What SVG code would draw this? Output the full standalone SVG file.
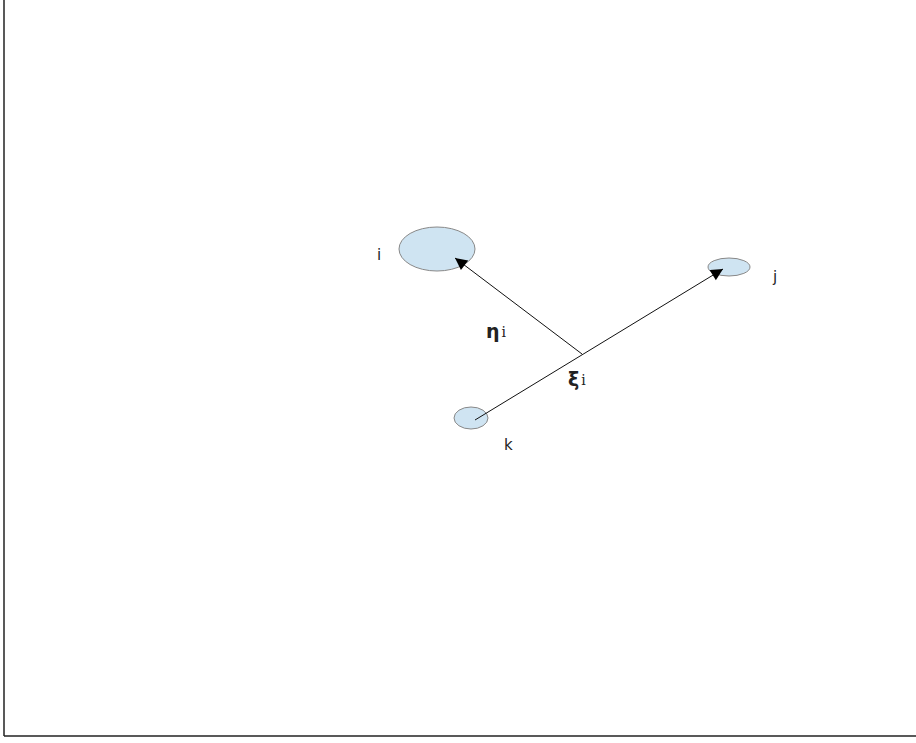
<svg xmlns="http://www.w3.org/2000/svg" width="916" height="743" viewBox="0 0 916 743">
<style>
.node{fill:#cfe4f2;stroke:#888;stroke-width:1}
.lbl{font-family:"DejaVu Sans",Verdana,sans-serif;font-size:15px;fill:#222}
.gk{font-family:"DejaVu Sans",sans-serif;font-size:19px;font-weight:bold;fill:#222}
.sub{font-family:"DejaVu Serif",serif;font-size:14px;fill:#222}
.conn{stroke:#111;stroke-width:1;fill:none}
</style>
<defs>
<marker id="ah" viewBox="0 0 10 10" refX="10" refY="5" markerWidth="16" markerHeight="12" markerUnits="userSpaceOnUse" orient="auto">
<path d="M0,0 L10,5 L0,10 z" fill="#000"/>
</marker>
</defs>
<rect width="916" height="743" fill="#fff"/>
<g id="frame" stroke="#222" stroke-width="1.5">
<line x1="4" y1="0" x2="4" y2="736"/>
<line x1="4" y1="736" x2="916" y2="736"/>
</g>
<g id="node-i"><ellipse class="node" cx="437" cy="249" rx="38" ry="22"/><text class="lbl" x="377" y="260">i</text></g>
<g id="node-j"><ellipse class="node" cx="729" cy="267" rx="21" ry="9"/><text class="lbl" x="773" y="282">j</text></g>
<g id="node-k"><ellipse class="node" cx="471" cy="418" rx="17" ry="11"/><text class="lbl" x="504" y="450">k</text></g>
<g id="connectors">
<line class="conn" x1="475" y1="420" x2="723" y2="269" marker-end="url(#ah)"/>
<line class="conn" x1="582" y1="354" x2="455" y2="258" marker-end="url(#ah)"/>
</g>
<g id="labels">
<text x="486" y="338"><tspan class="gk">η</tspan><tspan class="sub" dx="2" dy="-1">i</tspan></text>
<text x="568" y="386"><tspan class="gk">ξ</tspan><tspan class="sub" dx="2" dy="-1">i</tspan></text>
</g>
</svg>
